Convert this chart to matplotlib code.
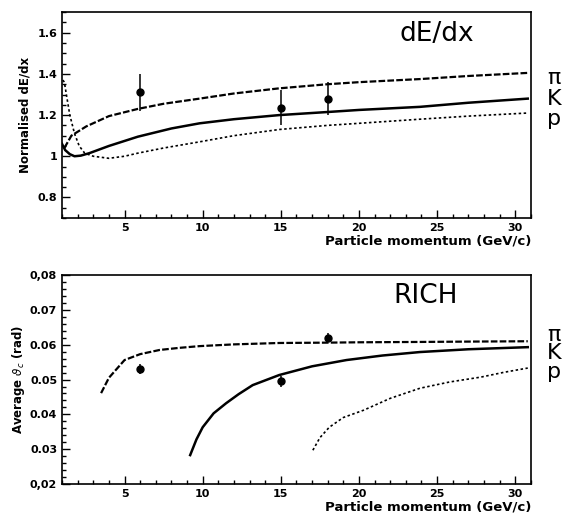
import matplotlib
matplotlib.use("Agg")
import matplotlib.pyplot as plt
from matplotlib.ticker import MultipleLocator

# dE/dx panel
dedx_pi_p = [1.15, 1.6, 2.55, 4.0, 5.85, 7.5, 9.8, 12.0, 14.9, 18.0, 20.0, 23.9, 27.0, 30.8]
dedx_pi_v = [1.04, 1.10, 1.145, 1.195, 1.23, 1.255, 1.28, 1.305, 1.33, 1.35, 1.36, 1.375, 1.39, 1.405]
dedx_k_p = [1.0, 1.2, 1.5, 1.8, 2.2, 2.75, 4.0, 5.85, 8.0, 9.8, 12.0, 14.9, 18.0, 20.0, 23.9, 27.0, 30.8]
dedx_k_v = [1.06, 1.03, 1.01, 1.0, 1.003, 1.015, 1.05, 1.095, 1.135, 1.16, 1.18, 1.2, 1.215, 1.225, 1.24, 1.26, 1.28]
dedx_p_p = [1.05, 1.15, 1.3, 1.5, 1.8, 2.1, 2.45, 3.0, 4.0, 5.0, 5.85, 7.5, 9.8, 12.0, 14.9, 18.0, 20.0, 23.9, 27.0, 30.8]
dedx_p_v = [1.37, 1.36, 1.29, 1.2, 1.11, 1.05, 1.015, 1.0, 0.99, 1.0, 1.015, 1.04, 1.07, 1.1, 1.13, 1.15, 1.16, 1.18, 1.195, 1.21]
dedx_meas_p = [6.0, 15.0, 18.0]
dedx_meas_v = [1.31, 1.235, 1.28]
dedx_meas_err = [0.09, 0.085, 0.08]

# RICH panel
rich_pi_p = [3.5, 4.0, 5.0, 6.0, 7.25, 8.5, 9.8, 12.0, 14.9, 18.0, 20.0, 23.9, 27.0, 30.8]
rich_pi_v = [0.0461, 0.0505, 0.0556, 0.0573, 0.0585, 0.0591, 0.0596, 0.0601, 0.0605, 0.0606, 0.0607, 0.0608, 0.0609, 0.061]
rich_k_p = [9.2, 9.6, 10.0, 10.7, 11.5, 12.3, 13.2, 14.9, 17.0, 19.2, 21.5, 23.9, 27.0, 30.8]
rich_k_v = [0.0283, 0.0328, 0.0363, 0.0403, 0.0432, 0.0458, 0.0484, 0.0513, 0.0538, 0.0556, 0.0569, 0.0579, 0.0587, 0.0593]
rich_p_p = [17.05, 17.5, 18.1, 19.0, 20.3, 22.0, 23.9, 25.8, 27.8, 29.3, 30.8]
rich_p_v = [0.0297, 0.0333, 0.0363, 0.0391, 0.0412, 0.0446, 0.0475, 0.0493, 0.0507, 0.0521, 0.0533]
rich_meas_p = [6.0, 15.0, 18.0]
rich_meas_v = [0.053, 0.0495, 0.062]
rich_meas_err = [0.0015, 0.0015, 0.0013]

rich_yticks = [0.02, 0.03, 0.04, 0.05, 0.06, 0.07, 0.08]
rich_yticklabels = ["0,02", "0.03", "0.04", "0.05", "0.06", "0.07", "0,08"]
dedx_yticks = [0.8, 1.0, 1.2, 1.4, 1.6]
dedx_yticklabels = ["0.8", "1", "1.2", "1.4", "1.6"]
particle_names = ["π", "K", "p"]

plt.rcParams['font.family'] = ['DejaVu Sans']

fig = plt.figure(figsize=(5.69, 5.21), dpi=100)
ax1 = fig.add_axes([0.109, 0.5816, 0.824, 0.395])
ax2 = fig.add_axes([0.109, 0.071, 0.824, 0.401])


def 軸を整える(ax):
    ax.set_xlim(1, 31)
    ax.xaxis.set_major_locator(MultipleLocator(5))
    ax.xaxis.set_minor_locator(MultipleLocator(1))
    ax.tick_params(which='both', direction='in', top=False, right=False,
                   labelsize=8, width=1.0)
    ax.tick_params(which='major', length=6)
    ax.tick_params(which='minor', length=3)
    for lbl in ax.get_xticklabels() + ax.get_yticklabels():
        lbl.set_fontweight('bold')
    for s in ax.spines.values():
        s.set_linewidth(1.2)
    ax.set_xlabel("Particle momentum (GeV/c)", fontsize=9.5, fontweight='bold',
                  loc='right', labelpad=1)


# top
ax1.plot(dedx_pi_p, dedx_pi_v, color='black', lw=1.6, ls=(0, (3, 1)))
ax1.plot(dedx_k_p, dedx_k_v, color='black', lw=1.8, ls='-')
ax1.plot(dedx_p_p, dedx_p_v, color='black', lw=1.2, ls=(0, (1.5, 1.5)))
ax1.errorbar(dedx_meas_p, dedx_meas_v, yerr=dedx_meas_err, fmt='o', color='black',
             ms=5, elinewidth=1.1, capsize=0)
ax1.set_ylim(0.7, 1.7)
ax1.set_yticks(dedx_yticks)
ax1.set_yticklabels(dedx_yticklabels)
ax1.yaxis.set_minor_locator(MultipleLocator(0.05))
ax1.set_ylabel("Normalised dE/dx", fontsize=8.5, fontweight='bold', labelpad=4)
軸を整える(ax1)
ax1.text(0.80, 0.895, "dE/dx", transform=ax1.transAxes, fontsize=19,
         ha='center', va='center')
ax1.text(1.05, 0.58, "\n".join(particle_names), transform=ax1.transAxes,
         fontsize=16, ha='center', va='center', linespacing=1.05)

# bottom
ax2.plot(rich_pi_p, rich_pi_v, color='black', lw=1.6, ls=(0, (3, 1)))
ax2.plot(rich_k_p, rich_k_v, color='black', lw=1.8, ls='-')
ax2.plot(rich_p_p, rich_p_v, color='black', lw=1.2, ls=(0, (1.5, 1.5)))
ax2.errorbar(rich_meas_p, rich_meas_v, yerr=rich_meas_err, fmt='o', color='black',
             ms=5, elinewidth=1.1, capsize=0)
ax2.set_ylim(0.02, 0.08)
ax2.set_yticks(rich_yticks)
ax2.set_yticklabels(rich_yticklabels)
ax2.yaxis.set_minor_locator(MultipleLocator(0.002))
ax2.set_ylabel(r"Average $\vartheta_c$ (rad)", fontsize=8.5, fontweight='bold', labelpad=2)
軸を整える(ax2)
ax2.text(0.775, 0.9, "RICH", transform=ax2.transAxes, fontsize=19,
         ha='center', va='center')
ax2.text(1.05, 0.625, "\n".join(particle_names), transform=ax2.transAxes,
         fontsize=16, ha='center', va='center', linespacing=0.92)

fig.savefig("out.png", dpi=100)
